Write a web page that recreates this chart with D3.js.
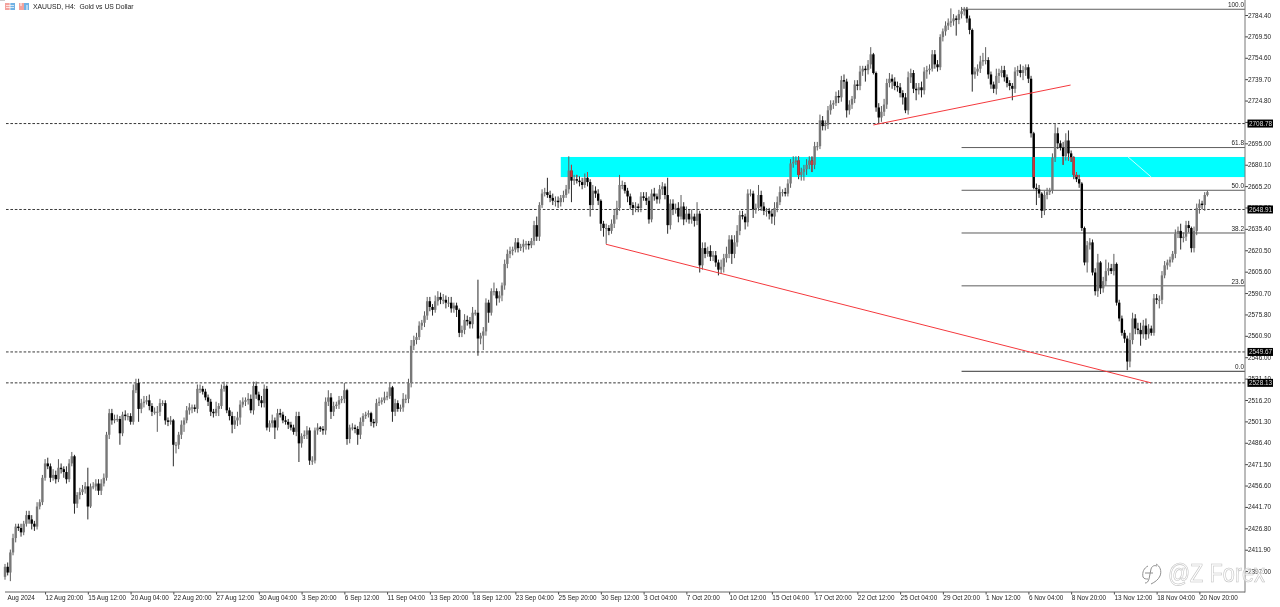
<!DOCTYPE html>
<html><head><meta charset="utf-8">
<script src="https://cdn.jsdelivr.net/npm/d3@7/dist/d3.min.js"></script>
<style>
html,body{margin:0;padding:0;background:#fff;overflow:hidden}
svg{display:block}
text{font-family:"Liberation Sans",Arial,sans-serif}
</style></head><body>
<div id="chart"></div>
<script>
const symbolTitle = "XAUUSD, H4:  Gold vs US Dollar";
const firstOpen = 2393;
const closes = [
2400,2396,2410,2420,2428,2427,2424,2430,2436,2433,
2430,2428,2442,2445,2462,2472,2470,2462,2464,2461,
2469,2468,2466,2461,2472,2477,2444,2450,2452,2454,
2456,2442,2456,2456,2458,2453,2458,2462,2492,2507,
2502,2503,2503,2493,2506,2505,2505,2501,2523,2528,
2510,2514,2515,2516,2512,2508,2508,2508,2514,2514,
2502,2501,2502,2485,2485,2492,2499,2502,2509,2511,
2511,2510,2524,2524,2522,2518,2515,2508,2507,2510,
2512,2524,2526,2509,2505,2499,2502,2504,2513,2515,
2516,2517,2509,2526,2520,2516,2514,2524,2497,2500,
2502,2497,2507,2506,2502,2501,2499,2497,2494,2505,
2486,2491,2492,2495,2474,2474,2495,2497,2496,2495,
2515,2518,2508,2512,2513,2516,2517,2523,2489,2497,
2497,2496,2492,2501,2505,2506,2507,2501,2500,2514,
2515,2516,2518,2519,2525,2508,2514,2510,2511,2517,
2517,2528,2554,2558,2560,2568,2570,2575,2585,2581,
2579,2585,2588,2586,2586,2584,2584,2580,2582,2579,
2563,2565,2572,2571,2569,2577,2577,2559,2561,2564,
2584,2577,2592,2592,2587,2589,2596,2611,2618,2620,
2621,2626,2622,2623,2625,2625,2624,2627,2638,2630,
2652,2660,2661,2659,2657,2655,2655,2654,2657,2659,
2663,2676,2669,2670,2669,2668,2666,2671,2668,2652,
2662,2660,2655,2639,2636,2636,2634,2639,2645,2650,
2666,2666,2662,2658,2652,2650,2651,2650,2658,2657,
2655,2642,2660,2658,2656,2663,2665,2659,2638,2653,
2649,2650,2644,2651,2642,2646,2642,2644,2641,2646,
2610,2622,2618,2620,2616,2617,2612,2607,2609,2615,
2618,2628,2618,2626,2634,2645,2644,2640,2660,2660,
2649,2650,2659,2651,2648,2648,2646,2644,2650,2654,
2661,2661,2660,2667,2681,2682,2683,2673,2675,2677,
2680,2683,2680,2693,2693,2711,2707,2708,2718,2722,
2723,2728,2727,2739,2738,2718,2722,2726,2736,2735,
2745,2747,2746,2750,2757,2744,2720,2713,2717,2722,
2737,2740,2738,2735,2734,2730,2727,2718,2741,2744,
2733,2732,2734,2732,2745,2746,2747,2757,2750,2748,
2769,2773,2777,2779,2780,2782,2781,2785,2787,2788,
2782,2774,2743,2745,2747,2752,2753,2753,2743,2736,
2733,2742,2744,2746,2741,2737,2735,2733,2745,2746,
2744,2746,2748,2740,2702,2664,2663,2660,2648,2659,
2661,2662,2685,2702,2695,2692,2686,2697,2688,2685,
2673,2670,2667,2636,2612,2624,2626,2605,2592,2612,
2594,2599,2606,2608,2606,2611,2584,2573,2563,2559,
2543,2558,2573,2566,2565,2562,2568,2562,2566,2563,
2587,2586,2586,2603,2610,2612,2614,2618,2632,2634,
2629,2630,2638,2636,2622,2634,2650,2653,2652,2659,
2661];
const upperWick = [
2,3,2,3,2,2,3,2,3,3,
3,2,3,2,2,3,4,2,4,3,
6,3,2,4,3,3,1,2,3,3,
3,13,2,3,3,3,3,3,2,3,
3,3,3,2,2,3,2,2,4,3,
3,3,4,3,4,2,3,4,3,2,
2,2,3,1,2,2,3,2,3,3,
2,2,3,3,2,2,2,2,2,5,
2,3,3,1,2,3,3,4,3,3,
2,4,3,3,3,2,3,3,2,2,
4,2,3,3,2,3,2,2,2,3,
3,2,3,3,2,3,2,3,1,2,
3,5,3,3,2,3,2,5,1,2,
3,2,2,3,2,2,2,1,2,3,
3,2,4,3,3,1,3,2,2,4,
3,3,4,3,3,3,2,3,3,3,
2,4,4,3,4,3,4,4,2,2,
1,3,4,3,3,4,2,23,2,3,
3,2,2,6,2,3,2,3,3,3,
2,3,3,2,3,2,2,2,3,6,
2,3,3,10,3,3,3,3,2,3,
3,10,4,3,3,3,3,3,4,2,
4,3,3,1,2,3,2,3,4,5,
7,3,2,2,2,2,3,2,3,3,
4,3,3,4,2,3,3,2,12,3,
3,3,4,8,3,5,3,5,2,8,
2,4,4,3,4,3,3,2,5,3,
5,3,3,5,4,3,3,2,3,3,
2,3,7,3,3,2,2,3,4,4,
4,2,3,3,3,4,3,3,3,3,
4,3,3,3,3,4,3,3,3,3,
2,3,4,3,4,2,3,2,3,3,
4,2,2,3,5,1,1,3,4,4,
3,4,3,3,3,3,2,3,4,3,
2,4,3,4,3,3,3,3,3,3,
2,2,3,3,9,3,2,3,3,2,
2,2,1,3,3,4,5,9,2,2,
2,5,3,3,3,2,2,2,3,3,
4,3,2,2,2,1,3,3,1,3,
3,2,3,7,4,2,4,5,7,2,
1,2,3,1,1,3,3,2,3,6,
1,3,8,4,3,7,1,2,2,2,
2,5,4,3,4,5,4,5,3,2,
3,3,3,3,3,2,2,2,3,3,
5,3,3,3,1,3,3,3,2,2,
1];
const lowerWick = [
2,2,6,2,3,2,3,2,2,3,
4,3,2,2,2,2,2,3,2,3,
2,3,4,3,2,2,7,3,3,2,
3,9,1,2,3,3,3,2,2,3,
3,2,2,8,2,3,3,2,2,2,
9,3,3,2,3,3,2,14,3,2,
3,3,2,15,6,3,3,5,2,3,
4,2,3,3,2,2,3,3,3,2,
5,2,2,2,3,6,3,4,5,2,
3,3,2,3,3,4,3,3,2,3,
3,8,2,2,2,2,3,2,2,3,
13,3,2,3,3,3,2,3,2,3,
3,3,5,3,2,3,2,3,4,3,
2,3,7,3,3,2,2,3,3,2,
2,2,2,2,2,7,3,2,2,3,
3,3,3,3,3,2,3,3,3,3,
4,2,3,3,3,4,3,3,3,5,
3,3,3,3,3,3,2,12,4,10,
3,7,2,3,5,3,4,3,3,3,
3,2,3,2,4,4,3,2,3,3,
3,2,2,2,3,3,4,4,3,3,
2,3,15,3,2,3,3,2,3,8,
3,3,3,5,6,11,3,2,3,3,
2,3,2,4,3,5,3,3,3,2,
3,3,2,3,3,3,4,3,6,3,
4,3,4,2,4,2,3,3,4,3,
5,3,3,2,3,3,3,4,3,4,
3,3,7,3,3,3,2,5,3,2,
6,3,2,3,3,4,4,5,6,3,
2,3,2,2,3,3,2,3,4,6,
4,3,5,3,3,2,3,3,3,3,
3,2,4,3,5,5,3,3,3,3,
3,3,8,3,3,1,3,4,3,3,
3,3,5,3,3,3,5,2,3,4,
3,7,3,5,3,5,3,2,3,3,
2,3,3,3,3,3,11,3,3,3,
3,3,12,3,3,3,3,3,3,3,
3,4,5,3,3,3,3,8,3,3,
3,5,4,3,3,1,11,3,5,3,
3,2,2,3,4,2,6,3,5,3,
3,2,3,2,2,7,3,2,3,4,
4,3,3,3,2,3,2,2,2,3,
6,4,3,4,3,8,3,4,3,2,
2,3,6,3,2,3,3,2,3,3,
8,3,3,3,3,3,3,4,3,4,
1];
const priceTicks = [2784.40,2769.50,2754.60,2739.70,2724.80,2709.90,2695.00,2680.10,2665.20,2650.30,2635.40,2620.50,2605.60,2590.70,2575.80,2560.90,2546.00,2531.10,2516.20,2501.30,2486.40,2471.50,2456.60,2441.70,2426.80,2411.90,2397.00];
const timeLabels = ["12 Aug 20:00","15 Aug 12:00","20 Aug 04:00","22 Aug 20:00","27 Aug 12:00","30 Aug 04:00","3 Sep 20:00","6 Sep 12:00","11 Sep 04:00","13 Sep 20:00","18 Sep 12:00","23 Sep 04:00","25 Sep 20:00","30 Sep 12:00","3 Oct 04:00","7 Oct 20:00","10 Oct 12:00","15 Oct 04:00","17 Oct 20:00","22 Oct 12:00","25 Oct 04:00","29 Oct 20:00","1 Nov 12:00","6 Nov 04:00","8 Nov 20:00","13 Nov 12:00","18 Nov 04:00","20 Nov 20:00"];
const firstLabel = "Aug 2024";
const hLevels = [2708.78,2648.91,2549.67,2528.13];
const fibLow = 2536.2, fibHigh = 2788.4;
const fibRatios = [100,61.8,50.0,38.2,23.6,0.0];
const fibStartBar = 358;
const zoneTop = 2685.5, zoneBottom = 2671.5, zoneStartBar = 208;
const trendA = [[224.9,2624.7],[428.8,2528.2]];
const trendB = [[325,2707.8],[398.8,2735.6]];
const zoneMark = [[420.3,2685.5],[429,2671.5]];

const W=1280,H=607;
const axisX=1245, axisY=592;
const x=d3.scaleLinear().domain([0,closes.length-1]).range([5,5+2.672*(closes.length-1)]);
const y=d3.scaleLinear().domain([2397,2784.4]).range([571.1,15]);
const opens=closes.map((c,i)=>i?closes[i-1]:firstOpen);
const bars=closes.map((c,i)=>{const o=opens[i];return{i,o,c,h:Math.max(o,c)+upperWick[i],l:Math.min(o,c)-lowerWick[i]}});

const svg=d3.select("#chart").append("svg").attr("width",W).attr("height",H);
const defs=svg.append("defs");
const mkBlur=(id,s)=>defs.append("filter").attr("id",id).attr("x","0").attr("y","0").attr("width","100%").attr("height","100%").append("feGaussianBlur").attr("stdDeviation",s);
mkBlur("soft",0.35);
mkBlur("softText",0.22);
defs.append("clipPath").attr("id","zoneClip").append("rect")
  .attr("x",x(zoneStartBar)).attr("y",y(zoneTop)).attr("width",axisX-x(zoneStartBar)).attr("height",y(zoneBottom)-y(zoneTop));

const root=svg.append("g");
root.append("rect").attr("x",x(zoneStartBar)).attr("y",y(zoneTop)).attr("width",axisX-x(zoneStartBar)).attr("height",y(zoneBottom)-y(zoneTop)).attr("fill","#00ffff");
root.append("line").attr("x1",x(zoneMark[0][0])).attr("y1",y(zoneMark[0][1])).attr("x2",x(zoneMark[1][0])).attr("y2",y(zoneMark[1][1])).attr("stroke","#c8ffff").attr("stroke-width",1);

const soft=root.append("g").attr("filter","url(#soft)");
soft.selectAll(".lvl").data(hLevels).join("line").attr("class","lvl").attr("x1",6).attr("x2",axisX).attr("y1",d=>y(d)).attr("y2",d=>y(d)).attr("stroke","#222").attr("stroke-width",0.9).attr("stroke-dasharray","2.6 1.8");
const fibPrice=r=>fibLow+(fibHigh-fibLow)*r/100;
soft.selectAll(".fib").data(fibRatios).join("line").attr("class","fib").attr("x1",x(fibStartBar)).attr("x2",axisX).attr("y1",d=>y(fibPrice(d))).attr("y2",d=>y(fibPrice(d))).attr("stroke",d=>d==0?"#333":"#5e5e5e").attr("stroke-width",1);
const cg=soft.append("g");
cg.selectAll(".w").data(bars).join("line").attr("class","w").attr("x1",d=>x(d.i)).attr("x2",d=>x(d.i)).attr("y1",d=>y(d.h)).attr("y2",d=>y(d.l)).attr("stroke",d=>d.c>=d.o?"#5c5c5c":"#2a2a2a").attr("stroke-width",1);
cg.selectAll(".b").data(bars).join("rect").attr("class","b").attr("x",d=>x(d.i)-1.2).attr("width",2.4).attr("y",d=>y(Math.max(d.o,d.c))).attr("height",d=>Math.max(1,Math.abs(y(d.o)-y(d.c)))).attr("fill",d=>d.c>=d.o?"#787878":"#000");
const rg=soft.append("g").attr("clip-path","url(#zoneClip)");
const redBars=bars.filter(d=>d.c<d.o && x(d.i)>560);
rg.selectAll("line").data(redBars).join("line").attr("x1",d=>x(d.i)).attr("x2",d=>x(d.i)).attr("y1",d=>y(d.h)).attr("y2",d=>y(d.l)).attr("stroke","#c8383c").attr("stroke-width",1);
rg.selectAll("rect").data(redBars).join("rect").attr("x",d=>x(d.i)-1.2).attr("width",2.4).attr("y",d=>y(Math.max(d.o,d.c))).attr("height",d=>Math.max(1,Math.abs(y(d.o)-y(d.c)))).attr("fill","#c8383c");
soft.selectAll(".t").data([trendA,trendB]).join("line").attr("class","t").attr("x1",d=>x(d[0][0])).attr("y1",d=>y(d[0][1])).attr("x2",d=>x(d[1][0])).attr("y2",d=>y(d[1][1])).attr("stroke","#f4393d").attr("stroke-width",1);

const textLayer=svg.append("g").attr("filter","url(#softText)");
textLayer.selectAll(".fl").data(fibRatios).join("text").attr("class","fl").attr("x",axisX-1).attr("y",d=>y(fibPrice(d))-2.2).attr("text-anchor","end").attr("font-size",6.4).attr("fill","#222").text(d=>d.toFixed(1));

const yAxis=d3.axisRight(y).tickValues(priceTicks).tickSize(3).tickPadding(0).tickFormat(d3.format(".2f"));
const gy=textLayer.append("g").attr("transform",`translate(${axisX},0)`).call(yAxis);
gy.select(".domain").remove();
gy.selectAll("line").attr("stroke","#444");
gy.selectAll("text").attr("font-size",6.4).attr("fill","#222").attr("font-family","Liberation Sans").attr("x",3);
svg.append("line").attr("x1",axisX).attr("x2",axisX).attr("y1",0).attr("y2",axisY+0.5).attr("stroke","#777").attr("stroke-width",1);

const tickIdx=[0,...timeLabels.map((_,k)=>15+16*k)];
const tickText=[firstLabel,...timeLabels];
const xAxis=d3.axisBottom(x).tickValues(tickIdx).tickSize(2.5).tickPadding(0).tickFormat((d,i)=>tickText[i]);
const gx=textLayer.append("g").attr("transform",`translate(0,${axisY})`).call(xAxis);
gx.select(".domain").remove();
gx.selectAll("line").attr("stroke","#444");
gx.selectAll("text").attr("font-size",6.4).attr("fill","#222").attr("text-anchor","start").attr("font-family","Liberation Sans").attr("dx",0).attr("dy",0).attr("y",8.3);
gx.selectAll(".tick").filter((d,i)=>i===0).select("line").remove();
gx.selectAll(".tick").filter((d,i)=>i===0).select("text").attr("dx",2);
svg.append("line").attr("x1",5).attr("x2",axisX).attr("y1",axisY).attr("y2",axisY).attr("stroke","#666").attr("stroke-width",1);

const pb=textLayer.selectAll(".pb").data(hLevels).join("g").attr("class","pb").attr("transform",d=>`translate(1247.5,${y(d)})`);
pb.append("rect").attr("x",0).attr("y",-4).attr("width",25.5).attr("height",8).attr("fill","#000");
pb.append("text").attr("x",1.5).attr("y",2.3).attr("font-size",6.4).attr("fill","#ddd").text(d=>d.toFixed(2));

const iconBlocks=[[5,"#f3a29c"],[10,"#6fb1e4"],[19,"#f3a29c"],[24,"#6fb1e4"]];
textLayer.selectAll(".ic").data(iconBlocks).join("rect").attr("class","ic").attr("x",d=>d[0]).attr("y",3).attr("width",5).attr("height",7).attr("fill",d=>d[1]);
textLayer.append("path").attr("d","M6 5.5h8M6 7.5h8M10 3v7").attr("stroke","#fff").attr("stroke-width",0.7).attr("fill","none");
textLayer.append("path").attr("d","M21 3v3M27 5v5").attr("stroke","#fff").attr("stroke-width",1).attr("fill","none");
textLayer.append("text").attr("x",33).attr("y",9).attr("font-size",6.8).attr("fill","#222").style("white-space","pre").text(symbolTitle);
svg.append("rect").attr("x",0).attr("y",0).attr("width",5).attr("height",1).attr("fill","#ccc");

const wm=svg.append("g");
wm.append("text").attr("x",1168).attr("y",582).attr("font-family","Roboto").attr("font-weight",300).attr("font-size",25).attr("textLength",97).attr("lengthAdjust","spacingAndGlyphs").attr("fill","#fff").attr("fill-opacity",0.55).attr("stroke","#c2c2c2").attr("stroke-width",0.6).text("@Z Forex");
wm.append("path").attr("d","M1148 566c-4 2-6 6-5 11c1 2 3 2 5 2M1156 564c4 2 6 7 4 12c-2 4-5 6-9 8M1157 566c-3-1-5 0-6 3l-2 10c-1 3-2 4-4 4M1145 573h8").attr("fill","none").attr("stroke","#8f8f8f").attr("stroke-width",1);
</script>
</body></html>
